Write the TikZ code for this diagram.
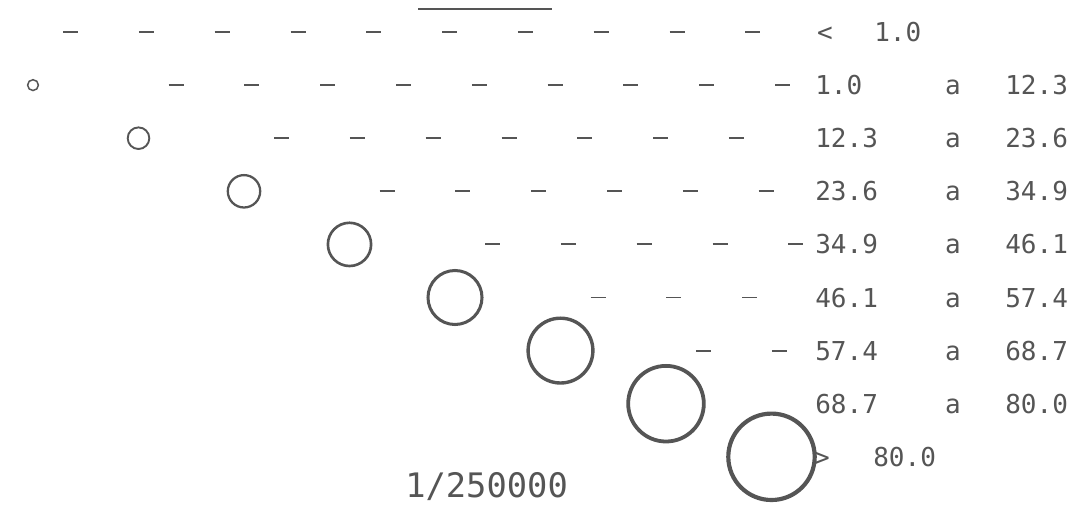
\documentclass[tikz,border=0pt]{standalone}
\usepackage{fontspec}
\setmonofont{DejaVu Sans Mono}
\usepackage{tikz}
\tikzset{>=latex}
\definecolor{trazo}{HTML}{555555}
\tikzset{valor/.style={inner sep=0pt,text=trazo,font=\ttfamily\fontsize{18.5}{20}\selectfont}}
\tikzset{raya/.style={trazo,line width=1.3pt}}
\tikzset{aro/.style={draw=trazo,circle,inner sep=0pt,outer sep=0pt}}

\begin{document}
\begin{tikzpicture}[x=0.025cm,y=-0.025cm]
      \useasboundingbox (0,0) rectangle (1085,505);
      \clip (0,0) rectangle (1085,505);
      \draw[trazo,line width=0.8pt] (418,9) -- (552,9);
      % circulos
      \foreach \j in {1,...,8}
        \node[aro,minimum size={\j*0.27cm},line width={0.8pt+0.27pt*\j}] (C\j) at ({-72.5+105.5*\j},{32+53.1*\j}) {};
      % rayas
      \foreach \j/\n in {0/9,1/8,2/6,3/5,4/4,5/2,6/1}
        \foreach \k in {0,...,\n}
          \draw[raya] ({63.1+105.5*\j+75.8*\k},{32+53.1*\j}) -- ++(15,0);
      % leyenda
      \node[valor,anchor=base] (A0) at (825,41.5) {<};
      \node[valor,anchor=base west] (B0) at (874,41.5) {1.0};
      \node[valor,anchor=base west] (A1) at (815,94.6) {1.0};
      \node[valor,anchor=base] (M1) at (953,94.6) {a};
      \node[valor,anchor=base west] (B1) at (1005,94.6) {12.3};
      \node[valor,anchor=base west] (A2) at (815,147.7) {12.3};
      \node[valor,anchor=base] (M2) at (953,147.7) {a};
      \node[valor,anchor=base west] (B2) at (1005,147.7) {23.6};
      \node[valor,anchor=base west] (A3) at (815,200.8) {23.6};
      \node[valor,anchor=base] (M3) at (953,200.8) {a};
      \node[valor,anchor=base west] (B3) at (1005,200.8) {34.9};
      \node[valor,anchor=base west] (A4) at (815,253.9) {34.9};
      \node[valor,anchor=base] (M4) at (953,253.9) {a};
      \node[valor,anchor=base west] (B4) at (1005,253.9) {46.1};
      \node[valor,anchor=base west] (A5) at (815,307) {46.1};
      \node[valor,anchor=base] (M5) at (953,307) {a};
      \node[valor,anchor=base west] (B5) at (1005,307) {57.4};
      \node[valor,anchor=base west] (A6) at (815,360.1) {57.4};
      \node[valor,anchor=base] (M6) at (953,360.1) {a};
      \node[valor,anchor=base west] (B6) at (1005,360.1) {68.7};
      \node[valor,anchor=base west] (A7) at (815,413.2) {68.7};
      \node[valor,anchor=base] (M7) at (953,413.2) {a};
      \node[valor,anchor=base west] (B7) at (1005,413.2) {80.0};
      \node[valor,anchor=base] (A8) at (822,466.3) {>};
      \node[valor,anchor=base west] (B8) at (873,466.3) {80.0};
      \node[valor,anchor=base west,font=\ttfamily\fontsize{24}{26}\selectfont] (E) at (405,497) {1/250000};
    \end{tikzpicture}
\end{document}
